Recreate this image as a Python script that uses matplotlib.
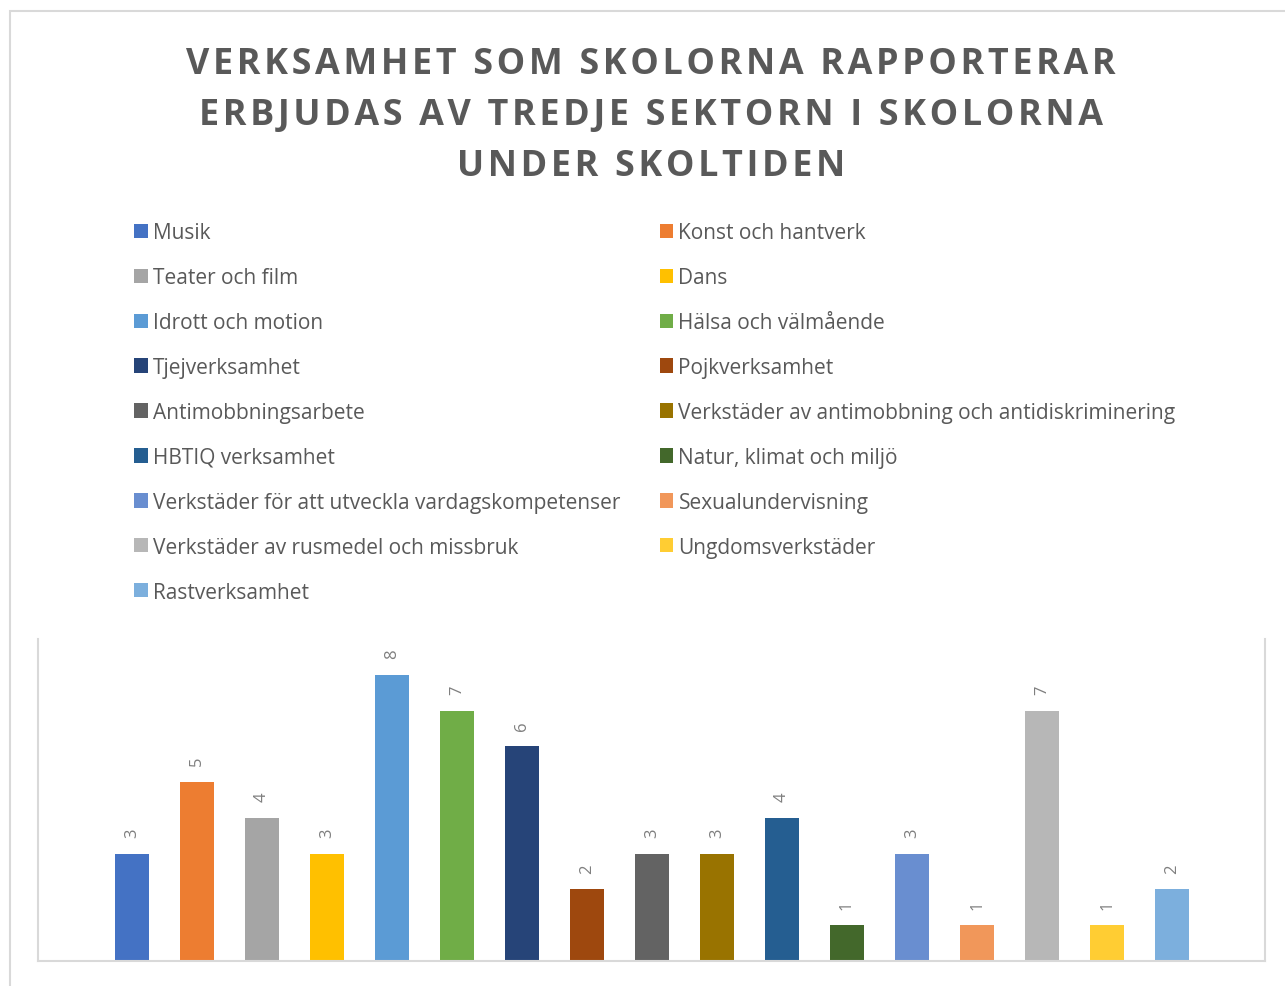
import matplotlib
matplotlib.use("Agg")
import matplotlib.pyplot as plt
from matplotlib.patches import Patch, Rectangle

categories = ["Musik", "Konst och hantverk", "Teater och film", "Dans",
              "Idrott och motion", "Hälsa och välmående", "Tjejverksamhet",
              "Pojkverksamhet", "Antimobbningsarbete",
              "Verkstäder av antimobbning och antidiskriminering",
              "HBTIQ verksamhet", "Natur, klimat och miljö",
              "Verkstäder för att utveckla vardagskompetenser",
              "Sexualundervisning", "Verkstäder av rusmedel och missbruk",
              "Ungdomsverkstäder", "Rastverksamhet"]
values = [3, 5, 4, 3, 8, 7, 6, 2, 3, 3, 4, 1, 3, 1, 7, 1, 2]
colors = ["#4472C4", "#ED7D31", "#A5A5A5", "#FFC000", "#5B9BD5", "#70AD47",
          "#264478", "#9E480E", "#636363", "#997300", "#255E91", "#43682B",
          "#698ED0", "#F1975A", "#B7B7B7", "#FFCD33", "#7CAFDD"]
title_lines = ["VERKSAMHET SOM SKOLORNA RAPPORTERAR",
               "ERBJUDAS AV TREDJE SEKTORN I SKOLORNA",
               "UNDER SKOLTIDEN"]

FONT = "Open Sans"
W, H = 1285, 987
fig = plt.figure(figsize=(W / 100, H / 100), dpi=100)

# outer chart border
fig.add_artist(Rectangle((9.5 / W, -0.05), 1.2, 1 - 12 / H + 0.05,
                         transform=fig.transFigure, fill=False,
                         edgecolor="#D9D9D9", lw=1.5))

ax = fig.add_axes([38 / W, 25 / H, (1265 - 38) / W, (962 - 640) / H])
x = list(range(len(values)))
bars = ax.bar(x, values, width=0.53, color=colors)
ax.set_xlim(-1.446, 17.43)
ax.set_ylim(0, 9)
ax.spines["top"].set_visible(False)
for s in ["left", "right", "bottom"]:
    ax.spines[s].set_color("#D9D9D9")
    ax.spines[s].set_linewidth(1.5)
ax.set_xticks([])
ax.set_yticks([])
for xi, v in zip(x, values):
    ax.annotate(str(v), (xi, v), xytext=(0, 12), textcoords="offset points",
                rotation=90, ha="center", va="bottom", color="#7F7F7F",
                fontsize=12, family=FONT)

# title with letter spacing (hair spaces between letters)
spaced = "\n".join("\u200a".join(line) for line in title_lines)
fig.text(651 / W, 1 - 116 / H, spaced, ha="center", va="center",
         fontsize=25.8, fontweight="bold", color="#595959",
         family=[FONT, "DejaVu Sans"], linespacing=1.56)

handles = [Patch(facecolor=c, edgecolor="none", label=l)
           for c, l in zip(colors, categories)]
order = list(range(0, 17, 2)) + list(range(1, 17, 2))
leg = fig.legend([handles[i] for i in order], [categories[i] for i in order],
                 ncol=2, loc="upper left", bbox_to_anchor=(134 / W, 1 - 223 / H),
                 frameon=False, handlelength=0.67, handleheight=0.67,
                 handletextpad=0.24, labelspacing=1.15, columnspacing=1.88,
                 borderpad=0, borderaxespad=0,
                 prop={"family": FONT, "size": 15})
for t in leg.get_texts():
    t.set_color("#595959")

fig.savefig("out.png", dpi=100)
